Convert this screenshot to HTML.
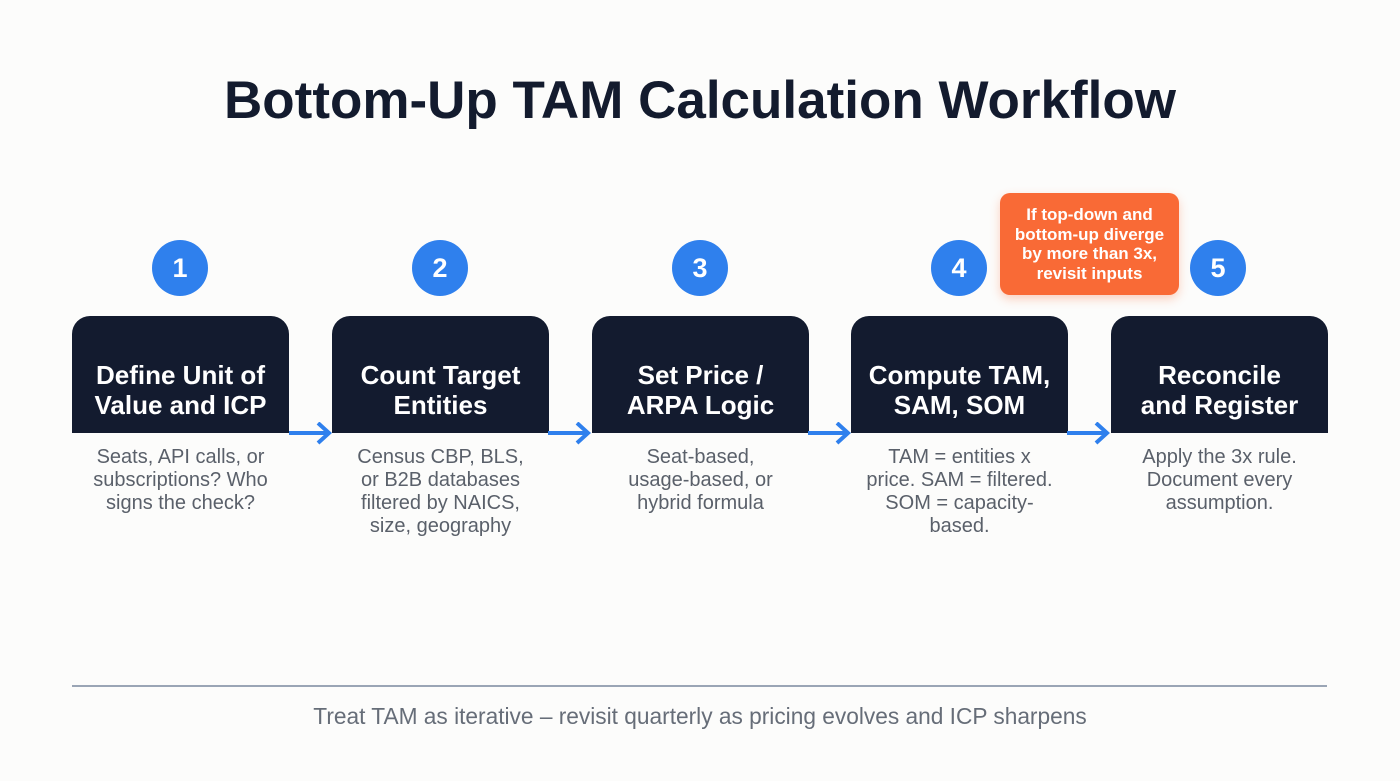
<!DOCTYPE html>
<html><head><meta charset="utf-8"><style>
body{margin:0;width:1400px;height:781px;background:#fcfcfb;font-family:"Liberation Sans",sans-serif;position:relative;overflow:hidden}
.t{position:absolute;left:0;width:1400px;top:70px;text-align:center;font-size:53px;font-weight:bold;color:#131b2e}
.c{position:absolute;width:56px;height:56px;border-radius:50%;background:#2f80ed;color:#fff;font-weight:bold;font-size:27px;text-align:center;line-height:56px;top:240px}
.b{position:absolute;top:316px;width:217px;height:117px;box-sizing:border-box;padding-top:30px;background:#131b2f;border-radius:18px 18px 0 0;color:#fff;font-weight:bold;font-size:26px;line-height:30px;display:flex;align-items:center;justify-content:center;text-align:center}
.d{position:absolute;top:446px;width:217px;text-align:center;color:#5a606a;font-size:20px;line-height:23px}
.a{position:absolute;top:422px}
.o{position:absolute;left:1000px;top:193px;width:179px;height:102px;background:#f96a36;border-radius:10px;color:#fff;font-weight:bold;font-size:17px;line-height:19.5px;text-align:center;display:flex;align-items:center;justify-content:center;box-shadow:0 4px 10px rgba(249,106,54,.3)}
.l{position:absolute;left:72px;top:685px;width:1255px;height:2px;background:#9aa5b5}
.f{position:absolute;left:0;width:1400px;top:703px;text-align:center;color:#666d78;font-size:22.7px}
</style></head><body>
<div class="t">Bottom-Up TAM Calculation Workflow</div>

<div class="c" style="left:152px">1</div>
<div class="c" style="left:412px">2</div>
<div class="c" style="left:672px">3</div>
<div class="c" style="left:931px">4</div>
<div class="c" style="left:1190px">5</div>

<div class="o">If top-down and<br>bottom-up diverge<br>by more than 3x,<br>revisit inputs</div>

<div class="b" style="left:72px">Define Unit of<br>Value and ICP</div>
<div class="b" style="left:332px">Count Target<br>Entities</div>
<div class="b" style="left:592px">Set Price /<br>ARPA Logic</div>
<div class="b" style="left:851px">Compute TAM,<br>SAM, SOM</div>
<div class="b" style="left:1111px">Reconcile<br>and Register</div>

<svg class="a" style="left:289px" width="44" height="24"><path d="M0 11H40M29 1L40 11L29 21" stroke="#2f80ed" stroke-width="4" fill="none"/></svg>
<svg class="a" style="left:548px" width="44" height="24"><path d="M0 11H40M29 1L40 11L29 21" stroke="#2f80ed" stroke-width="4" fill="none"/></svg>
<svg class="a" style="left:808px" width="44" height="24"><path d="M0 11H40M29 1L40 11L29 21" stroke="#2f80ed" stroke-width="4" fill="none"/></svg>
<svg class="a" style="left:1067px" width="44" height="24"><path d="M0 11H40M29 1L40 11L29 21" stroke="#2f80ed" stroke-width="4" fill="none"/></svg>

<div class="d" style="left:72px">Seats, API calls, or<br>subscriptions? Who<br>signs the check?</div>
<div class="d" style="left:332px">Census CBP, BLS,<br>or B2B databases<br>filtered by NAICS,<br>size, geography</div>
<div class="d" style="left:592px">Seat-based,<br>usage-based, or<br>hybrid formula</div>
<div class="d" style="left:851px">TAM = entities x<br>price. SAM = filtered.<br>SOM = capacity-<br>based.</div>
<div class="d" style="left:1111px">Apply the 3x rule.<br>Document every<br>assumption.</div>

<div class="l"></div>
<div class="f">Treat TAM as iterative – revisit quarterly as pricing evolves and ICP sharpens</div>
</body></html>
